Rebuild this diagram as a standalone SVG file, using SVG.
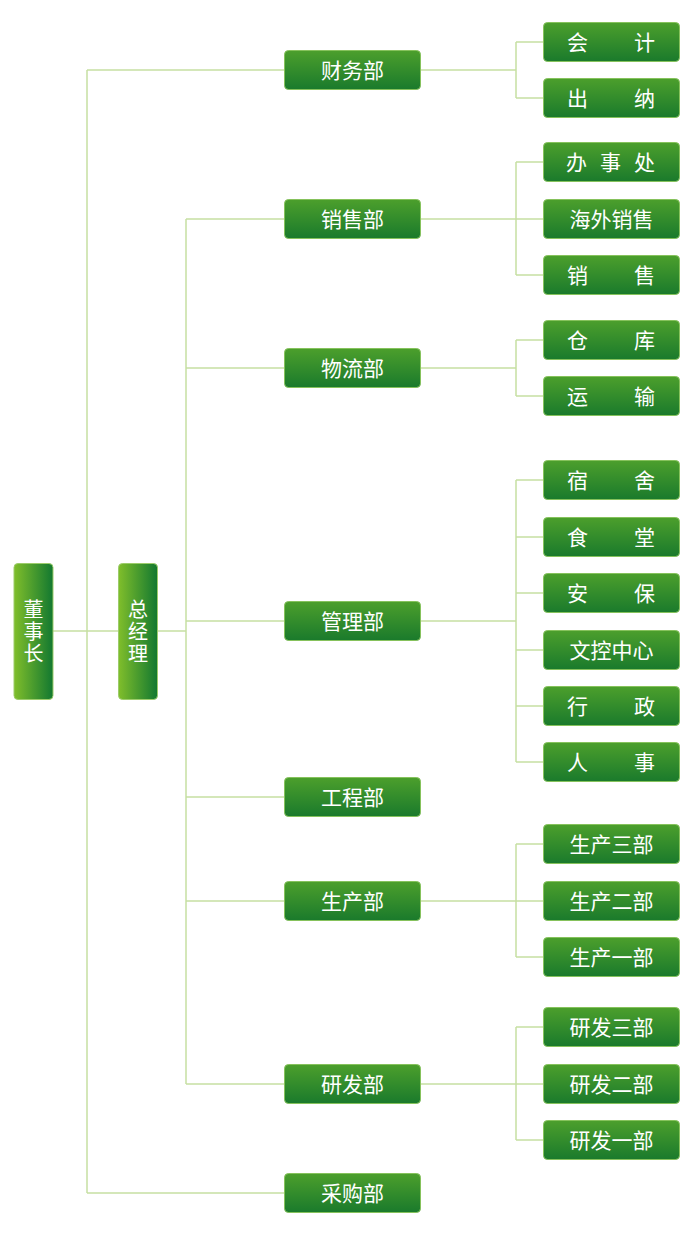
<svg xmlns="http://www.w3.org/2000/svg" width="700" height="1242" viewBox="0 0 700 1242">
<defs>
<linearGradient id="gh" x1="0" y1="0" x2="0" y2="1">
<stop offset="0" stop-color="#4c9f2c"/>
<stop offset="1" stop-color="#1a7a2c"/>
</linearGradient>
<linearGradient id="gv" x1="0" y1="0" x2="1" y2="0">
<stop offset="0" stop-color="#80be2b"/>
<stop offset="1" stop-color="#127830"/>
</linearGradient>
<style>
.h{fill:url(#gh);stroke:#86c25c;stroke-width:1}
.v{fill:url(#gv);stroke:#9ccc6a;stroke-width:1}
.t{fill:#ffffff;font-family:"Noto Sans CJK SC","Noto Sans",sans-serif;font-size:21px}
.vt{font-size:20px;writing-mode:vertical-rl;letter-spacing:2px}
.c{text-anchor:middle}
.ln{fill:none;stroke:#c6e0a2;stroke-width:1.5}
</style>
</defs>
<rect width="700" height="1242" fill="#ffffff"/>
<g id="connectors">
<path class="ln" d="M87 70V1193M87 70H284M87 1193H284M53 631H118M158 631H186M186 219V1084M186 219H284M186 368H284M186 621H284M186 797H284M186 901H284M186 1084H284"/>
<path class="ln" d="M420 70H516M516 42V98M516 42H543M516 98H543"/>
<path class="ln" d="M420 219H543M516 162V275M516 162H543M516 275H543"/>
<path class="ln" d="M420 368H516M516 340V396M516 340H543M516 396H543"/>
<path class="ln" d="M420 621H516M516 480V762M516 480H543M516 537H543M516 593H543M516 650H543M516 706H543M516 762H543"/>
<path class="ln" d="M420 901H543M516 844V957M516 844H543M516 957H543"/>
<path class="ln" d="M420 1084H543M516 1027V1140M516 1027H543M516 1140H543"/>
</g>
<g id="n-dongshizhang">
<rect class="v" x="14" y="563.5" width="39" height="136" rx="4"/>
<text class="t vt c" x="33.5" y="632">董事长</text>
</g>
<g id="n-zongjingli">
<rect class="v" x="118.5" y="563.5" width="39" height="136" rx="4"/>
<text class="t vt c" x="138" y="632">总经理</text>
</g>
<g id="n-caiwu"><rect class="h" x="284.5" y="50.5" width="136" height="39" rx="4"/><text class="t c" x="352.5" y="77.5">财务部</text></g>
<g id="n-xiaoshou"><rect class="h" x="284.5" y="199.5" width="136" height="39" rx="4"/><text class="t c" x="352.5" y="226.5">销售部</text></g>
<g id="n-wuliu"><rect class="h" x="284.5" y="348.5" width="136" height="39" rx="4"/><text class="t c" x="352.5" y="375.5">物流部</text></g>
<g id="n-guanli"><rect class="h" x="284.5" y="601.5" width="136" height="39" rx="4"/><text class="t c" x="352.5" y="628.5">管理部</text></g>
<g id="n-gongcheng"><rect class="h" x="284.5" y="777.5" width="136" height="39" rx="4"/><text class="t c" x="352.5" y="804.5">工程部</text></g>
<g id="n-shengchan"><rect class="h" x="284.5" y="881.5" width="136" height="39" rx="4"/><text class="t c" x="352.5" y="908.5">生产部</text></g>
<g id="n-yanfa"><rect class="h" x="284.5" y="1064.5" width="136" height="39" rx="4"/><text class="t c" x="352.5" y="1091.5">研发部</text></g>
<g id="n-caigou"><rect class="h" x="284.5" y="1173.5" width="136" height="39" rx="4"/><text class="t c" x="352.5" y="1200.5">采购部</text></g>
<g id="n-kuaiji"><rect class="h" x="543.5" y="22.5" width="136" height="39" rx="4"/><text class="t" x="567 600 634" y="49.5">会 计</text></g>
<g id="n-chuna"><rect class="h" x="543.5" y="78.5" width="136" height="39" rx="4"/><text class="t" x="567 600 634" y="105.5">出 纳</text></g>
<g id="n-banshichu"><rect class="h" x="543.5" y="142.5" width="136" height="39" rx="4"/><text class="t" x="566 588 600 622 634" y="169.5">办 事 处</text></g>
<g id="n-haiwai"><rect class="h" x="543.5" y="199.5" width="136" height="39" rx="4"/><text class="t c" x="611.5" y="226.5">海外销售</text></g>
<g id="n-xs"><rect class="h" x="543.5" y="255.5" width="136" height="39" rx="4"/><text class="t" x="567 600 634" y="282.5">销 售</text></g>
<g id="n-cangku"><rect class="h" x="543.5" y="320.5" width="136" height="39" rx="4"/><text class="t" x="567 600 634" y="347.5">仓 库</text></g>
<g id="n-yunshu"><rect class="h" x="543.5" y="376.5" width="136" height="39" rx="4"/><text class="t" x="567 600 634" y="403.5">运 输</text></g>
<g id="n-sushe"><rect class="h" x="543.5" y="460.5" width="136" height="39" rx="4"/><text class="t" x="567 600 634" y="487.5">宿 舍</text></g>
<g id="n-shitang"><rect class="h" x="543.5" y="517.5" width="136" height="39" rx="4"/><text class="t" x="567 600 634" y="544.5">食 堂</text></g>
<g id="n-anbao"><rect class="h" x="543.5" y="573.5" width="136" height="39" rx="4"/><text class="t" x="567 600 634" y="600.5">安 保</text></g>
<g id="n-wenkong"><rect class="h" x="543.5" y="630.5" width="136" height="39" rx="4"/><text class="t c" x="611.5" y="657.5">文控中心</text></g>
<g id="n-xingzheng"><rect class="h" x="543.5" y="686.5" width="136" height="39" rx="4"/><text class="t" x="567 600 634" y="713.5">行 政</text></g>
<g id="n-renshi"><rect class="h" x="543.5" y="742.5" width="136" height="39" rx="4"/><text class="t" x="567 600 634" y="769.5">人 事</text></g>
<g id="n-sc3"><rect class="h" x="543.5" y="824.5" width="136" height="39" rx="4"/><text class="t c" x="611.5" y="851.5">生产三部</text></g>
<g id="n-sc2"><rect class="h" x="543.5" y="881.5" width="136" height="39" rx="4"/><text class="t c" x="611.5" y="908.5">生产二部</text></g>
<g id="n-sc1"><rect class="h" x="543.5" y="937.5" width="136" height="39" rx="4"/><text class="t c" x="611.5" y="964.5">生产一部</text></g>
<g id="n-yf3"><rect class="h" x="543.5" y="1007.5" width="136" height="39" rx="4"/><text class="t c" x="611.5" y="1034.5">研发三部</text></g>
<g id="n-yf2"><rect class="h" x="543.5" y="1064.5" width="136" height="39" rx="4"/><text class="t c" x="611.5" y="1091.5">研发二部</text></g>
<g id="n-yf1"><rect class="h" x="543.5" y="1120.5" width="136" height="39" rx="4"/><text class="t c" x="611.5" y="1147.5">研发一部</text></g>
</svg>
